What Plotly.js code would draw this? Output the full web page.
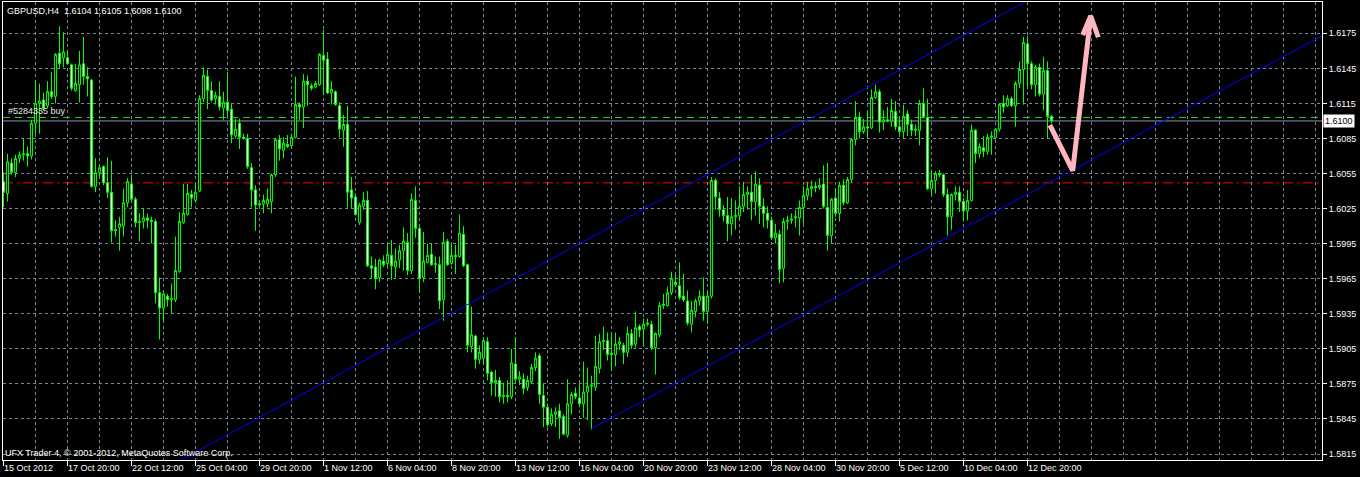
<!DOCTYPE html>
<html>
<head>
<meta charset="utf-8">
<script src="https://cdn.plot.ly/plotly-3.0.1.min.js"></script>
<style>
  html, body { margin: 0; padding: 0; background: #000; }
  #chart { width: 1360px; height: 477px; }
</style>
</head>
<body>
<div id="chart"></div>
<script>
// GBPUSD, H4 bars (open / high / low / close)
const opens = [
  1.6048,1.6038,1.6064,1.6056,1.6068,1.6071,1.6072,1.6070,1.6098,1.6115,
  1.6118,1.6113,1.6125,1.6121,1.6158,1.6154,1.6154,1.6148,1.6126,1.6131,
  1.6149,1.6138,1.6135,1.6044,1.6056,1.6061,1.6047,1.6039,1.6006,1.6009,
  1.6010,1.6030,1.6046,1.6033,1.6013,1.6014,1.6017,1.6015,1.6014,1.5953,
  1.5940,1.5950,1.5947,1.5947,1.5971,1.6013,1.6020,1.6037,1.6032,1.6040,
  1.6119,1.6138,1.6126,1.6119,1.6121,1.6111,1.6116,1.6110,1.6087,1.6098,
  1.6086,1.6085,1.6060,1.6041,1.6028,1.6029,1.6029,1.6031,1.6054,1.6084,
  1.6075,1.6080,1.6079,1.6086,1.6114,1.6112,1.6134,1.6130,1.6129,1.6131,
  1.6156,1.6153,1.6124,1.6125,1.6113,1.6092,1.6097,1.6041,1.6035,1.6013,
  1.6027,1.6032,1.5976,1.5975,1.5966,1.5980,1.5978,1.5985,1.5975,1.5981,
  1.5989,1.5996,1.5972,1.6032,1.6008,1.5966,1.5979,1.5986,1.5977,1.5977,
  1.5947,1.5997,1.5978,1.5985,1.5984,1.6003,1.5977,1.5907,1.5916,1.5896,
  1.5897,1.5911,1.5885,1.5876,1.5878,1.5864,1.5865,1.5864,1.5892,1.5879,
  1.5879,1.5872,1.5877,1.5889,1.5899,1.5865,1.5855,1.5841,1.5849,1.5852,
  1.5847,1.5831,1.5858,1.5867,1.5863,1.5858,1.5868,1.5873,1.5872,1.5888,
  1.5911,1.5912,1.5900,1.5900,1.5909,1.5908,1.5902,1.5918,1.5909,1.5924,
  1.5922,1.5926,1.5926,1.5906,1.5917,1.5942,1.5942,1.5953,1.5962,1.5959,
  1.5950,1.5946,1.5926,1.5937,1.5946,1.5950,1.5937,1.5950,1.6049,1.6034,
  1.6024,1.6019,1.6012,1.6018,1.6019,1.6027,1.6037,1.6039,1.6031,1.6045,
  1.6027,1.6021,1.6015,1.6000,1.6003,1.5974,1.6014,1.6015,1.6017,1.6017,
  1.6026,1.6036,1.6042,1.6044,1.6043,1.6046,1.6026,1.6002,1.6034,1.6021,
  1.6045,1.6030,1.6050,1.6084,1.6103,1.6091,1.6095,1.6094,1.6120,1.6125,
  1.6099,1.6101,1.6100,1.6108,1.6095,1.6091,1.6106,1.6097,1.6092,1.6092,
  1.6115,1.6103,1.6042,1.6049,1.6055,1.6054,1.6037,1.6018,1.6037,1.6039,
  1.6031,1.6023,1.6032,1.6092,1.6072,1.6077,1.6074,1.6086,1.6086,1.6093,
  1.6115,1.6113,1.6119,1.6113,1.6132,1.6144,1.6166,1.6149,1.6131,1.6146,
  1.6123,1.6143,1.6104
];
const highs = [
  1.6056,1.6072,1.6068,1.6071,1.6074,1.6085,1.6078,1.6101,1.6134,1.6132,
  1.6124,1.6134,1.6142,1.6158,1.6181,1.6176,1.6161,1.6149,1.6149,1.6160,
  1.6172,1.6146,1.6136,1.6068,1.6062,1.6062,1.6069,1.6066,1.6015,1.6018,
  1.6042,1.6051,1.6054,1.6035,1.6021,1.6025,1.6021,1.6018,1.6016,1.5966,
  1.5955,1.5952,1.5961,1.6001,1.6022,1.6046,1.6046,1.6041,1.6047,1.6122,
  1.6146,1.6144,1.6134,1.6125,1.6134,1.6125,1.6142,1.6115,1.6102,1.6102,
  1.6089,1.6089,1.6064,1.6045,1.6031,1.6037,1.6042,1.6055,1.6085,1.6088,
  1.6086,1.6088,1.6089,1.6138,1.6116,1.6140,1.6139,1.6132,1.6134,1.6158,
  1.6178,1.6159,1.6134,1.6126,1.6116,1.6105,1.6113,1.6052,1.6038,1.6030,
  1.6039,1.6040,1.5984,1.5982,1.5982,1.5985,1.5994,1.5998,1.5991,1.5994,
  1.6009,1.6004,1.6038,1.6044,1.6010,1.6005,1.5995,1.5995,1.5984,1.5984,
  1.6005,1.5999,1.5994,1.5994,1.6020,1.6010,1.5978,1.5941,1.5917,1.5908,
  1.5915,1.5915,1.5886,1.5887,1.5881,1.5876,1.5878,1.5905,1.5915,1.5886,
  1.5884,1.5882,1.5892,1.5902,1.5901,1.5875,1.5858,1.5854,1.5855,1.5858,
  1.5849,1.5879,1.5868,1.5872,1.5875,1.5894,1.5889,1.5882,1.5916,1.5918,
  1.5924,1.5919,1.5919,1.5919,1.5915,1.5910,1.5924,1.5922,1.5937,1.5926,
  1.5931,1.5931,1.5929,1.5919,1.5945,1.5952,1.5958,1.5971,1.5969,1.5979,
  1.5969,1.5955,1.5946,1.5948,1.5955,1.5966,1.5955,1.6052,1.6051,1.6039,
  1.6028,1.6035,1.6034,1.6032,1.6044,1.6048,1.6044,1.6054,1.6057,1.6051,
  1.6034,1.6027,1.6018,1.6012,1.6007,1.6017,1.6019,1.6021,1.6024,1.6032,
  1.6044,1.6048,1.6049,1.6048,1.6051,1.6062,1.6064,1.6034,1.6042,1.6048,
  1.6050,1.6052,1.6085,1.6117,1.6108,1.6102,1.6108,1.6127,1.6131,1.6127,
  1.6109,1.6112,1.6119,1.6117,1.6104,1.6114,1.6109,1.6101,1.6097,1.6118,
  1.6128,1.6119,1.6058,1.6057,1.6058,1.6055,1.6042,1.6038,1.6044,1.6044,
  1.6034,1.6041,1.6097,1.6093,1.6081,1.6087,1.6089,1.6091,1.6094,1.6115,
  1.6122,1.6122,1.6121,1.6134,1.6151,1.6172,1.6173,1.6151,1.6148,1.6149,
  1.6155,1.6151,1.6105
];
const lows = [
  1.6026,1.6031,1.6054,1.6052,1.6064,1.6066,1.6061,1.6067,1.6089,1.6089,
  1.6109,1.6111,1.6119,1.6115,1.6145,1.6146,1.6148,1.6126,1.6125,1.6116,
  1.6131,1.6121,1.6043,1.6039,1.6052,1.6045,1.6034,1.5996,1.6001,1.5989,
  1.6001,1.6026,1.6032,1.6009,1.5997,1.6008,1.6008,1.5995,1.5944,1.5913,
  1.5928,1.5941,1.5935,1.5945,1.5970,1.6012,1.6019,1.6026,1.6031,1.6039,
  1.6116,1.6110,1.6116,1.6114,1.6109,1.6101,1.6104,1.6081,1.6085,1.6076,
  1.6084,1.6059,1.6026,1.6006,1.6026,1.6021,1.6026,1.6021,1.6052,1.6066,
  1.6068,1.6077,1.6078,1.6085,1.6101,1.6094,1.6113,1.6126,1.6128,1.6130,
  1.6122,1.6123,1.6114,1.6113,1.6086,1.6078,1.6026,1.6025,1.6019,1.6011,
  1.6024,1.5975,1.5965,1.5956,1.5962,1.5975,1.5976,1.5964,1.5966,1.5974,
  1.5972,1.5968,1.5969,1.6000,1.5953,1.5962,1.5978,1.5976,1.5970,1.5939,
  1.5929,1.5976,1.5977,1.5969,1.5983,1.5975,1.5902,1.5902,1.5888,1.5892,
  1.5892,1.5878,1.5865,1.5864,1.5859,1.5858,1.5859,1.5862,1.5878,1.5874,
  1.5866,1.5869,1.5875,1.5886,1.5858,1.5838,1.5838,1.5839,1.5838,1.5828,
  1.5831,1.5829,1.5849,1.5862,1.5855,1.5846,1.5844,1.5836,1.5869,1.5884,
  1.5904,1.5895,1.5886,1.5890,1.5904,1.5892,1.5898,1.5905,1.5906,1.5915,
  1.5908,1.5924,1.5904,1.5883,1.5915,1.5939,1.5941,1.5951,1.5958,1.5947,
  1.5945,1.5925,1.5919,1.5932,1.5942,1.5929,1.5926,1.5948,1.6024,1.6018,
  1.6014,1.5997,1.6002,1.6007,1.6015,1.6022,1.6024,1.6015,1.6019,1.6012,
  1.6009,1.6008,1.5998,1.5995,1.5961,1.5962,1.6007,1.6012,1.6009,1.6002,
  1.6012,1.6032,1.6035,1.6039,1.6041,1.6025,1.5989,1.5995,1.6018,1.6014,
  1.6028,1.6029,1.6047,1.6079,1.6085,1.6089,1.6085,1.6093,1.6119,1.6090,
  1.6092,1.6099,1.6095,1.6092,1.6089,1.6085,1.6087,1.6087,1.6087,1.6079,
  1.6102,1.6041,1.6037,1.6038,1.6052,1.6035,1.6002,1.6007,1.6032,1.6022,
  1.6014,1.6015,1.6031,1.6064,1.6068,1.6069,1.6071,1.6071,1.6084,1.6091,
  1.6107,1.6112,1.6112,1.6095,1.6128,1.6114,1.6128,1.6127,1.6121,1.6121,
  1.6109,1.6085,1.6098
];
const closes = [
  1.6039,1.6065,1.6056,1.6068,1.6071,1.6072,1.6070,1.6098,1.6115,1.6117,
  1.6111,1.6125,1.6121,1.6157,1.6149,1.6159,1.6149,1.6128,1.6132,1.6148,
  1.6138,1.6136,1.6044,1.6056,1.6060,1.6047,1.6039,1.6006,1.6007,1.6012,
  1.6030,1.6048,1.6033,1.6013,1.6014,1.6017,1.6015,1.6014,1.5953,1.5940,
  1.5952,1.5947,1.5948,1.5972,1.6014,1.6021,1.6038,1.6034,1.6039,1.6119,
  1.6139,1.6126,1.6118,1.6122,1.6112,1.6116,1.6109,1.6088,1.6093,1.6086,
  1.6085,1.6061,1.6041,1.6028,1.6029,1.6032,1.6033,1.6054,1.6084,1.6076,
  1.6081,1.6078,1.6086,1.6114,1.6112,1.6134,1.6131,1.6128,1.6132,1.6157,
  1.6152,1.6124,1.6127,1.6114,1.6093,1.6097,1.6039,1.6034,1.6020,1.6028,
  1.6032,1.5976,1.5974,1.5965,1.5981,1.5977,1.5986,1.5976,1.5980,1.5989,
  1.5997,1.5972,1.6033,1.6008,1.5965,1.5980,1.5985,1.5977,1.5978,1.5946,
  1.5996,1.5977,1.5985,1.5984,1.6004,1.5976,1.5908,1.5917,1.5896,1.5902,
  1.5912,1.5884,1.5876,1.5878,1.5864,1.5865,1.5864,1.5893,1.5879,1.5881,
  1.5871,1.5878,1.5889,1.5897,1.5866,1.5855,1.5840,1.5849,1.5851,1.5846,
  1.5832,1.5858,1.5866,1.5864,1.5858,1.5868,1.5873,1.5874,1.5890,1.5911,
  1.5912,1.5900,1.5901,1.5909,1.5911,1.5902,1.5918,1.5908,1.5923,1.5921,
  1.5926,1.5927,1.5906,1.5918,1.5942,1.5943,1.5953,1.5965,1.5960,1.5949,
  1.5947,1.5927,1.5938,1.5946,1.5950,1.5937,1.5950,1.6049,1.6035,1.6024,
  1.6019,1.6012,1.6018,1.6019,1.6027,1.6037,1.6039,1.6031,1.6046,1.6027,
  1.6021,1.6015,1.6000,1.6004,1.5973,1.6014,1.6015,1.6016,1.6018,1.6026,
  1.6036,1.6042,1.6044,1.6043,1.6045,1.6027,1.6002,1.6033,1.6021,1.6045,
  1.6030,1.6050,1.6084,1.6103,1.6091,1.6095,1.6094,1.6120,1.6125,1.6099,
  1.6101,1.6100,1.6109,1.6095,1.6091,1.6104,1.6097,1.6092,1.6093,1.6115,
  1.6103,1.6042,1.6049,1.6055,1.6054,1.6037,1.6018,1.6037,1.6039,1.6031,
  1.6023,1.6032,1.6092,1.6072,1.6078,1.6074,1.6086,1.6087,1.6093,1.6114,
  1.6112,1.6119,1.6113,1.6132,1.6144,1.6167,1.6149,1.6131,1.6146,1.6123,
  1.6143,1.6104,1.6100
];

// time scale labels, one every 16 bars
const timeLabels = [
  '15 Oct 2012','17 Oct 20:00','22 Oct 12:00','25 Oct 04:00','29 Oct 20:00',
  '1 Nov 12:00','6 Nov 04:00','8 Nov 20:00','13 Nov 12:00','16 Nov 04:00',
  '20 Nov 20:00','23 Nov 12:00','28 Nov 04:00','30 Nov 20:00','5 Dec 12:00',
  '10 Dec 04:00','12 Dec 20:00'
];
const barsPerLabel = 16;

// price scale labels
const priceLabels = [
  '1.5815','1.5845','1.5875','1.5905','1.5935','1.5965','1.5995',
  '1.6025','1.6055','1.6085','1.6115','1.6145','1.6175'
];

// levels
const buyOrderPrice = 1.6103;
const buyOrderText = '#5284335 buy';
const redLevel = 1.6047;

// equidistant channel (bar index, price)
const channelUpperBars = [40, 262];
const channelUpperPrices = [1.58017, 1.62141];
const channelLowerBars = [147.05, 335];
const channelLowerPrices = [1.58370, 1.61826];

// hand-drawn arrow (bar index, price); null breaks the stroke
const arrowBars = [261.6, 267.3, 271.8, null, 269.8, 271.8, 273.7];
const arrowPrices = [1.60965, 1.60574, 1.61898, null, 1.61736, 1.61898, 1.61716];

const symbolTitle = 'GBPUSD,H4';
const copyrightText = 'UFX Trader 4, \u00a9 2001-2012, MetaQuotes Software Corp.';

// ----------------------------------------------------------------
const n = closes.length;
const barIndex = closes.map((_, i) => i);
const labelBars = timeLabels.map((_, i) => i * barsPerLabel);
const priceTicks = priceLabels.map(Number);
const last = n - 1;
const fmt = v => v.toFixed(4);

const FONT = 'Liberation Sans, Arial, sans-serif';
const GRID = '#778899';
const LIME = '#00ff00';

const traces = [
  {
    type: 'candlestick',
    x: barIndex, open: opens, high: highs, low: lows, close: closes,
    increasing: { line: { color: LIME, width: 1 }, fillcolor: '#000000' },
    decreasing: { line: { color: LIME, width: 1 }, fillcolor: '#ffffff' },
    whiskerwidth: 0,
    hoverinfo: 'skip',
    showlegend: false
  },
  {
    type: 'scatter', mode: 'lines',
    x: channelUpperBars, y: channelUpperPrices,
    line: { color: '#0000ff', width: 1 }, hoverinfo: 'skip', showlegend: false
  },
  {
    type: 'scatter', mode: 'lines',
    x: channelLowerBars, y: channelLowerPrices,
    line: { color: '#0000ff', width: 1 }, hoverinfo: 'skip', showlegend: false
  },
  {
    type: 'scatter', mode: 'lines',
    x: arrowBars, y: arrowPrices, connectgaps: false,
    line: { color: '#ffb6c1', width: 5 }, hoverinfo: 'skip', showlegend: false
  }
];

const annotations = [
  {
    xref: 'paper', yref: 'paper', x: 0, y: 1, xanchor: 'left', yanchor: 'top',
    xshift: 2, yshift: -2, showarrow: false,
    text: symbolTitle + '&nbsp;&nbsp;' + [opens[last], highs[last], lows[last], closes[last]].map(fmt).join(' '),
    font: { family: FONT, size: 9, color: '#ffffff' }
  },
  {
    xref: 'paper', yref: 'y', x: 0, y: buyOrderPrice, xanchor: 'left', yanchor: 'bottom',
    xshift: 3, yshift: -1, showarrow: false, text: buyOrderText,
    font: { family: FONT, size: 9, color: '#e8e8e8' }
  },
  {
    xref: 'paper', yref: 'paper', x: 0, y: 0, xanchor: 'left', yanchor: 'bottom',
    xshift: 0, yshift: 0, showarrow: false, text: copyrightText,
    font: { family: FONT, size: 9, color: '#ffffff' }
  },
  {
    xref: 'paper', yref: 'y', x: 1, y: closes[last], xanchor: 'left', yanchor: 'middle',
    xshift: 1, showarrow: false, text: fmt(closes[last]), bgcolor: '#ffffff', borderpad: 1,
    font: { family: FONT, size: 9, color: '#000000' }
  }
];
labelBars.forEach((b, i) => {
  annotations.push({
    xref: 'x', yref: 'paper', x: b, y: 0, xanchor: 'left', yanchor: 'top',
    xshift: -2, yshift: -1, showarrow: false, text: timeLabels[i],
    font: { family: FONT, size: 9, color: '#ffffff' }
  });
});

const shapes = [
  { type: 'line', xref: 'paper', yref: 'y', x0: 0, x1: 1, y0: redLevel, y1: redLevel,
    layer: 'between', line: { color: '#ff0000', width: 1, dash: '10px,4px,2px,4px' } },
  { type: 'line', xref: 'paper', yref: 'y', x0: 0, x1: 1, y0: buyOrderPrice, y1: buyOrderPrice,
    layer: 'between', line: { color: '#32cd32', width: 1, dash: '7px,5px' } },
  { type: 'line', xref: 'paper', yref: 'y', x0: 0, x1: 1, y0: closes[last], y1: closes[last],
    layer: 'between', line: { color: '#8c96aa', width: 1 } }
];

const layout = {
  width: 1360, height: 477,
  margin: { l: 3, r: 38, t: 2, b: 17, pad: 0 },
  paper_bgcolor: '#000000', plot_bgcolor: '#000000',
  showlegend: false, hovermode: false, dragmode: false,
  boxgap: 0.25,
  font: { family: FONT, size: 9, color: '#ffffff' },
  xaxis: {
    range: [-0.125, 329.625], autorange: false,
    rangeslider: { visible: false },
    tickmode: 'array', tickvals: labelBars, ticktext: labelBars.map(() => ''),
    showticklabels: false,
    ticks: 'outside', ticklen: 5, tickcolor: '#ffffff', tickwidth: 1,
    showgrid: true, gridcolor: GRID, gridwidth: 1, griddash: '3px,3px',
    minor: { tickmode: 'linear', tick0: 0, dtick: 8, showgrid: true,
             gridcolor: GRID, gridwidth: 1, griddash: '3px,3px', ticks: '' },
    showline: true, linecolor: '#ffffff', linewidth: 1, mirror: true,
    zeroline: false, fixedrange: true
  },
  yaxis: {
    side: 'right',
    range: [1.580987, 1.620178], autorange: false,
    tickmode: 'array', tickvals: priceTicks, ticktext: priceLabels,
    ticks: 'outside', ticklen: 4, tickcolor: '#ffffff', tickwidth: 1,
    tickfont: { family: FONT, size: 9, color: '#ffffff' },
    showgrid: true, gridcolor: GRID, gridwidth: 1, griddash: '3px,3px',
    showline: true, linecolor: '#ffffff', linewidth: 1, mirror: true,
    zeroline: false, fixedrange: true
  },
  annotations: annotations,
  shapes: shapes
};

Plotly.newPlot('chart', traces, layout, { staticPlot: true, displayModeBar: false });
</script>
</body>
</html>
